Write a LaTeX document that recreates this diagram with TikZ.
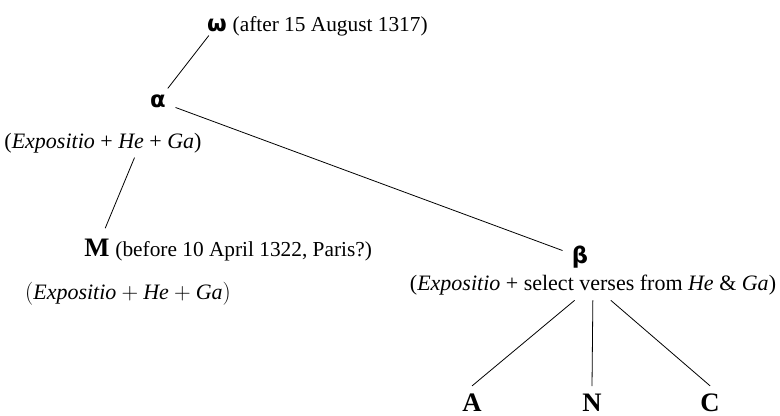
\documentclass[tikz,border=0pt]{standalone}
\usepackage{fontspec}
\setmainfont{Liberation Serif}
\newfontfamily\greekfont{DejaVu Sans}
\usetikzlibrary{positioning}

\begin{document}
\begin{tikzpicture}[x=0.75pt,y=-0.75pt,
  siglum/.style={font=\greekfont\bfseries\fontsize{17}{17}\selectfont,inner sep=0pt},
  witness/.style={font=\bfseries\fontsize{20}{20}\selectfont,inner sep=0pt},
  leaf/.style={witness,inner ysep=6pt},
  dating/.style={font=\fontsize{16}{19}\selectfont,inner sep=0pt},
  content/.style={font=\fontsize{16.5}{19}\selectfont,inner sep=0pt},
  branch/.style={line width=0.6pt}]
\useasboundingbox (0,0) rectangle (780,416);
% archetype and hyparchetypes
\node[siglum] (omega) at (217,25) {ω};
\node[dating,base right=4pt of omega] (omegadate) {(after 15 August 1317)};
\node[siglum] (alpha) at (158,101) {α};
\node[content] (alphanote) at (103,143) {(\textit{Expositio} + \textit{He} + \textit{Ga})};
\node[siglum] (beta) at (580,257) {β};
\node[content,inner ysep=3.75pt] (betanote) at (593,285) {(\textit{Expositio} + select verses from \textit{He} \& \textit{Ga})};
% extant witnesses
\node[witness] (M) at (97,248) {M};
\node[dating,base right=4pt of M] (Mdate) {(before 10 April 1322, Paris?)};
\node[content] (Mnote) at (128,294) {$\bigl(\textit{Expositio} + \textit{He} + \textit{Ga}\bigr)$};
\foreach \n/\x in {A/472,N/592,C/710}
  \node[leaf] (\n) at (\x,403) {\n};
% stemma lines
\draw[branch,shorten <=10pt,shorten >=12pt] (omega.center) -- (alpha.center);
\draw[branch,shorten <=14pt,shorten >=14pt] (alpha.center) -- (beta.center);
\draw[branch,shorten <=46pt,shorten >=16pt] (alpha.center) -- (M.center);
\foreach \n in {A,N,C}
  \draw[branch] (betanote) -- (\n.north);
\end{tikzpicture}
\end{document}
